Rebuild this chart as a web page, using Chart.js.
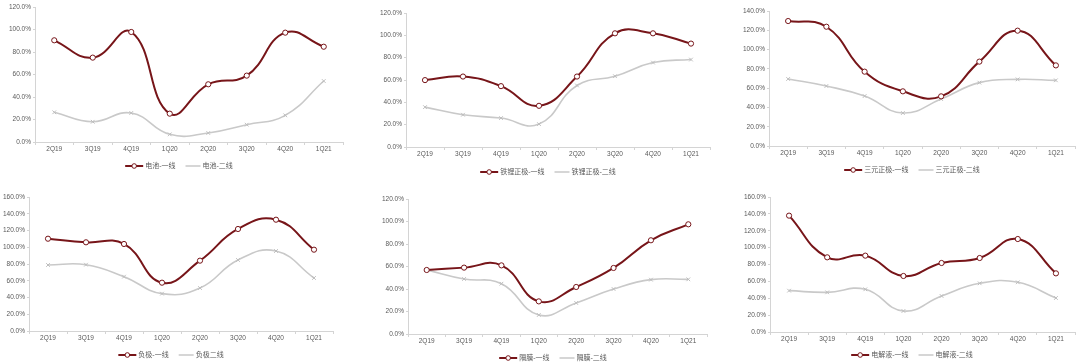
<!DOCTYPE html>
<html lang="zh-CN">
<head>
<meta charset="UTF-8">
<title>一线与二线</title>
<script src="https://cdn.jsdelivr.net/npm/chart.js"></script>
<style>
  body { margin: 0; background: #fff; }
  .painel { position: absolute; width: 360px; height: 182px; }
</style>
</head>
<body>
<div class="painel" style="left:0;top:0"><canvas id="c1" width="360" height="182"></canvas></div>
<div class="painel" style="left:360px;top:0"><canvas id="c2" width="360" height="182"></canvas></div>
<div class="painel" style="left:720px;top:0"><canvas id="c3" width="360" height="182"></canvas></div>
<div class="painel" style="left:0;top:182px"><canvas id="c4" width="360" height="182"></canvas></div>
<div class="painel" style="left:360px;top:182px"><canvas id="c5" width="360" height="182"></canvas></div>
<div class="painel" style="left:720px;top:182px"><canvas id="c6" width="360" height="182"></canvas></div>
<script>
  // categorias
  const quarters = ['2Q19', '3Q19', '4Q19', '1Q20', '2Q20', '3Q20', '4Q20', '1Q21'];

  // valores (%)
  const dianchi1 = [90.4, 75.0, 97.8, 25.2, 51.3, 59.0, 97.2, 84.7];
  const dianchi2 = [26.4, 18.0, 25.8, 6.8, 8.0, 15.4, 23.7, 54.2];
  const tieli1 = [59.9, 63.1, 54.5, 36.9, 63.1, 101.8, 101.8, 92.6];
  const tieli2 = [35.7, 28.9, 25.9, 20.5, 55.1, 63.4, 75.6, 78.3];
  const sanyuan1 = [129.6, 123.7, 77.1, 56.7, 51.5, 87.5, 119.6, 83.6];
  const sanyuan2 = [69.5, 62.2, 51.8, 34.2, 48.7, 65.7, 69.1, 68.1];
  const fuji1 = [110.2, 105.9, 103.9, 57.7, 84.0, 121.8, 132.9, 97.1];
  const fuji2 = [78.8, 79.2, 64.9, 44.6, 51.3, 84.8, 95.5, 63.3];
  const gemo1 = [56.9, 59.0, 61.0, 29.0, 41.8, 58.7, 83.3, 97.5];
  const gemo2 = [57.0, 48.9, 44.7, 16.9, 27.6, 40.0, 48.3, 48.6];
  const dianjieye1 = [137.9, 88.5, 90.5, 66.4, 81.8, 87.7, 110.2, 69.5];
  const dianjieye2 = [49.0, 47.0, 50.6, 24.9, 42.7, 57.7, 58.9, 40.3];

  // rótulos das séries e máximos dos eixos
  const nomes1 = ['电池-一线', '铁锂正极-一线', '三元正极-一线', '负极-一线', '隔膜-一线', '电解液-一线'];
  const nomes2 = ['电池-二线', '铁锂正极-二线', '三元正极-二线', '负极二线', '隔膜-二线', '电解液-二线'];
  const maxY = [120, 120, 140, 160, 120, 160];

  // geometria de cada painel: eixo y, topo, base, direita, legenda
  const geo = [
    { ax: 35, top: 7, bot: 142, right: 343, ly: 166, lx: 179 },
    { ax: 46, top: 13, bot: 147, right: 350, ly: 172, lx: 188 },
    { ax: 49, top: 11, bot: 146, right: 358, ly: 170, lx: 192 },
    { ax: 29, top: 15, bot: 149, right: 333, ly: 173, lx: 171 },
    { ax: 48, top: 17, bot: 152, right: 347, ly: 176, lx: 193 },
    { ax: 50, top: 15, bot: 150, right: 357, ly: 173, lx: 192 }
  ];

  const series1 = [dianchi1, tieli1, sanyuan1, fuji1, gemo1, dianjieye1];
  const series2 = [dianchi2, tieli2, sanyuan2, fuji2, gemo2, dianjieye2];

  const vermelho = '#771519';
  const cinza = '#c9c9c9';
  const fonte = '"Liberation Sans", "Noto Sans CJK SC", sans-serif';
  const eixoCor = '#d4d4d4';
  const textoCor = '#595959';

  const legendaPlugin = {
    id: 'legendaPlugin',
    afterDraw(chart, args, opts) {
      const ctx = chart.ctx;
      ctx.save();
      ctx.font = '7px ' + fonte;
      ctx.textBaseline = 'middle';
      ctx.fillStyle = textoCor;
      const w1 = ctx.measureText(opts.t1).width;
      const w2 = ctx.measureText(opts.t2).width;
      const total = 18 + 2 + w1 + 10 + 15 + 2 + w2;
      let x = opts.cx - total / 2;
      const y = opts.y;
      ctx.strokeStyle = vermelho;
      ctx.lineWidth = 2;
      ctx.beginPath(); ctx.moveTo(x, y); ctx.lineTo(x + 18, y); ctx.stroke();
      ctx.beginPath(); ctx.arc(x + 9, y, 2.3, 0, Math.PI * 2);
      ctx.fillStyle = '#fff'; ctx.fill();
      ctx.lineWidth = 1; ctx.stroke();
      ctx.fillStyle = textoCor;
      ctx.fillText(opts.t1, x + 20, y + 0.5);
      x += 20 + w1 + 10;
      ctx.strokeStyle = cinza;
      ctx.lineWidth = 1.5;
      ctx.beginPath(); ctx.moveTo(x, y); ctx.lineTo(x + 15, y); ctx.stroke();
      ctx.fillText(opts.t2, x + 17, y + 0.5);
      ctx.restore();
    }
  };

  function plotar(i) {
    const g = geo[i];
    const config = {
      type: 'line',
      data: {
        labels: quarters,
        datasets: [{
          label: nomes1[i],
          data: series1[i],
          borderColor: vermelho,
          borderWidth: 2,
          tension: 0.45,
          pointStyle: 'circle',
          pointRadius: 2.6,
          pointBorderWidth: 1,
          pointBackgroundColor: '#fff',
          pointBorderColor: vermelho
        }, {
          label: nomes2[i],
          data: series2[i],
          borderColor: cinza,
          borderWidth: 1.6,
          tension: 0.45,
          pointStyle: 'crossRot',
          pointRadius: 2.6,
          pointBorderWidth: 1,
          pointBorderColor: '#bdbdbd'
        }]
      },
      options: {
        responsive: false,
        animation: false,
        devicePixelRatio: 1,
        layout: {
          padding: { left: 0, top: g.top, right: 360 - g.right, bottom: 182 - g.bot - 14 }
        },
        plugins: {
          legend: { display: false },
          tooltip: { enabled: false },
          legendaPlugin: { t1: nomes1[i], t2: nomes2[i], cx: g.lx, y: g.ly }
        },
        scales: {
          x: {
            offset: true,
            grid: { offset: true, drawOnChartArea: false, drawTicks: true, tickLength: 3, color: eixoCor },
            border: { color: eixoCor },
            ticks: { color: textoCor, font: { size: 6.5, family: fonte }, padding: 0, maxRotation: 0, autoSkip: false },
            afterFit: function (s) { s.height = 14; }
          },
          y: {
            min: 0,
            max: maxY[i],
            grid: { drawOnChartArea: false, drawTicks: true, tickLength: 2, color: eixoCor },
            border: { color: eixoCor },
            ticks: {
              stepSize: 20,
              color: textoCor,
              font: { size: 6.5, family: fonte },
              padding: 2,
              callback: function (v) { return v.toFixed(1) + '%'; }
            },
            afterFit: function (s) { s.width = g.ax; }
          }
        }
      },
      plugins: [legendaPlugin]
    };
    new Chart(document.getElementById('c' + (i + 1)), config);
  }

  for (let i = 0; i < 6; i++) {
    plotar(i);
  }
</script>
</body>
</html>
